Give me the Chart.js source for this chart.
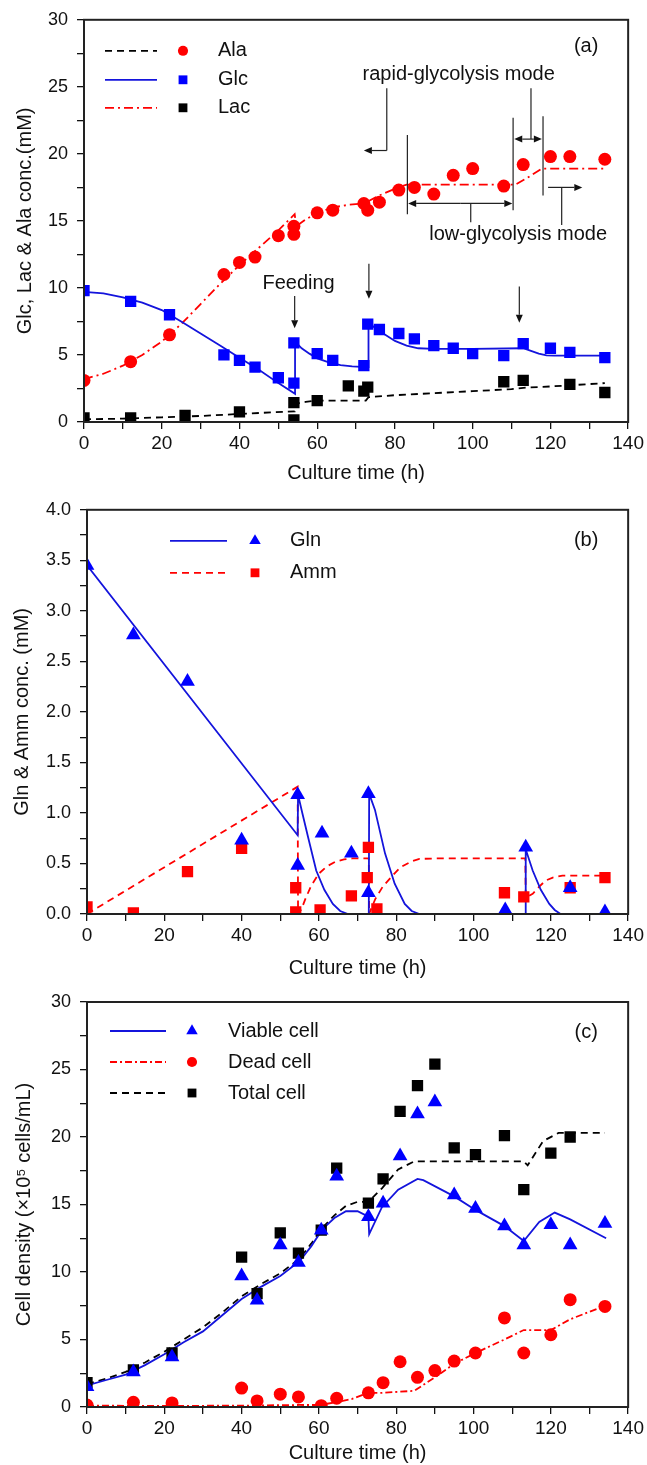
<!DOCTYPE html>
<html>
<head>
<meta charset="utf-8">
<title>Culture time courses</title>
<script src="https://cdn.jsdelivr.net/npm/chart.js@4.4.1/dist/chart.umd.min.js"></script>
<style>
  html, body { margin: 0; padding: 0; background: #fff; }
  body { width: 647px; height: 1465px; position: relative; overflow: hidden; }
  canvas { position: absolute; left: 0; }
</style>
</head>
<body>
<canvas id="chartA" width="647" height="490" style="top:0px"></canvas>
<canvas id="chartB" width="647" height="490" style="top:490px"></canvas>
<canvas id="chartC" width="647" height="485" style="top:980px"></canvas>
<script>
// ---- panel (a): Glc, Lac, Ala (mM) ----
const glcT = [0, 12, 22, 36, 40, 44, 50, 54, 54, 60, 64, 72, 73, 76, 81, 85, 90, 95, 100, 108, 113, 120, 125, 134];
const glcV = [9.8, 9.0, 8.0, 5.0, 4.6, 4.1, 3.3, 2.9, 5.9, 5.1, 4.6, 4.2, 7.3, 6.9, 6.6, 6.2, 5.7, 5.5, 5.1, 4.95, 5.85, 5.5, 5.2, 4.8];
const lacT = [0, 12, 26, 40, 54, 54, 60, 68, 72, 73, 108, 113, 125, 134];
const lacV = [0.3, 0.3, 0.5, 0.75, 0.15, 1.45, 1.6, 2.7, 2.3, 2.6, 3.0, 3.1, 2.8, 2.2];
const alaT = [0, 12, 22, 36, 40, 44, 50, 54, 54, 60, 64, 72, 73, 76, 81, 85, 90, 95, 100, 108, 113, 120, 125, 134];
const alaV = [3.1, 4.5, 6.5, 11.0, 11.9, 12.3, 13.9, 14.6, 14.0, 15.6, 15.8, 16.3, 15.8, 16.4, 17.3, 17.5, 17.0, 18.4, 18.9, 17.6, 19.2, 19.8, 19.8, 19.6];

// model curves (a)
const glcFitT = [0, 5, 10, 15, 20, 25, 30, 35, 40, 45, 50, 54.3, 54.3, 56, 58, 60, 63, 66, 69, 72.5, 73.2, 73.2, 75, 77, 80, 83, 86, 90, 100, 113, 115, 117, 119, 121, 134];
const glcFitV = [9.7, 9.6, 9.3, 8.9, 8.35, 7.5, 6.6, 5.7, 4.8, 3.9, 2.9, 2.1, 6.0, 5.5, 5.1, 4.75, 4.45, 4.25, 4.15, 4.1, 4.1, 7.4, 7.0, 6.6, 6.05, 5.7, 5.5, 5.45, 5.45, 5.5, 5.3, 5.1, 4.97, 4.95, 4.95];
const alaFitT = [0, 5, 10, 15, 20, 25, 30, 35, 40, 45, 50, 54.2, 54.6, 57, 60, 64, 68, 72, 76, 80, 83, 90, 100, 111, 114, 117.8, 125, 134];
const alaFitV = [3.2, 3.6, 4.2, 5.0, 6.0, 7.3, 8.8, 10.3, 11.7, 13.0, 14.3, 15.5, 14.6, 15.1, 15.6, 16.0, 16.2, 16.3, 16.9, 17.4, 17.7, 17.7, 17.7, 17.7, 18.2, 18.9, 18.9, 18.9];
const lacFitT = [0, 10, 20, 30, 40, 54.2, 54.3, 57, 60, 72.5, 73.2, 80, 90, 100, 110, 113, 120, 134];
const lacFitV = [0.2, 0.25, 0.35, 0.45, 0.6, 0.8, 1.35, 1.5, 1.6, 1.6, 1.85, 2.0, 2.15, 2.3, 2.45, 2.55, 2.65, 2.9];

// annotations (a), in data units
const feedT = [54.2, 73.3, 112];
const feedTop = [9.4, 11.8, 10.1];
const feedTip = [7.0, 9.2, 7.4];
const modeBars = [[83.2, 21.4, 15.5], [110.4, 22.7, 15.8], [118.1, 22.8, 16.9]];
const modeLeaders = [[77.9, 24.9, 20.25], [115, 24.9, 21.1], [99.5, 16.3, 14.9], [122.9, 17.5, 14.7]];
const modeArrows = [[77.9, 20.25, 72, 20.25], [96.8, 16.3, 83.4, 16.3], [96.8, 16.3, 110.2, 16.3],
  [115, 21.1, 110.7, 21.1], [115, 21.1, 117.8, 21.1], [119.4, 17.5, 128.2, 17.5]];
const modeTexts = [['rapid-glycolysis mode', 96.4, 25.9], ['low-glycolysis mode', 111.7, 14.0], ['Feeding', 55.2, 10.35]];

// ---- panel (b): Gln, Amm (mM) ----
const glnT = [0, 12, 26, 40, 54.5, 54.5, 60.8, 68.4, 72.8, 72.8, 108.2, 113.5, 125, 134];
const glnV = [3.45, 2.76, 2.3, 0.73, 1.18, 0.48, 0.80, 0.60, 0.21, 1.19, 0.04, 0.66, 0.26, 0.02];
const ammT = [0, 12, 26, 40, 54, 54, 60.3, 68.4, 72.5, 72.8, 75, 108, 113, 125, 134];
const ammV = [0.07, 0.01, 0.42, 0.65, 0.26, 0.02, 0.04, 0.18, 0.36, 0.66, 0.05, 0.21, 0.17, 0.26, 0.36];
const glnFitT = [0, 54.5, 54.6, 55.7, 57.2, 59.3, 61.4, 63.6, 65.5, 67.5, 72.9, 73, 74.5, 77.1, 79.6, 82.2, 84, 86, 113.4, 113.5, 115.3, 117.4, 119.6, 121, 122.5, 135];
const glnFitV = [3.45, 0.78, 1.18, 1.0, 0.76, 0.43, 0.24, 0.1, 0.03, 0, 0, 1.19, 1.03, 0.6, 0.3, 0.1, 0.03, 0, 0, 0.64, 0.43, 0.24, 0.1, 0.04, 0, 0];
const ammFitT = [0, 54.5, 54.6, 55.5, 56.5, 58, 60, 62, 64.4, 66.5, 68.6, 72.9, 73, 73.5, 74.6, 76.5, 78.8, 81, 83.9, 86, 90, 113.4, 113.5, 115.3, 117, 118.6, 120.5, 123, 135];
const ammFitV = [0, 1.26, 0, 0.05, 0.15, 0.28, 0.40, 0.47, 0.52, 0.54, 0.55, 0.55, 0, 0.05, 0.15, 0.27, 0.37, 0.46, 0.52, 0.545, 0.55, 0.55, 0.16, 0.2, 0.27, 0.33, 0.36, 0.38, 0.38];

// ---- panel (c): cell density (x10^5 cells/mL) ----
const viaT = [0, 12, 22, 40, 44, 50, 54.7, 60.6, 64.6, 72.8, 76.6, 81, 85.5, 90, 95, 100.5, 108, 113, 120, 125, 134];
const viaV = [1.5, 2.6, 3.7, 9.7, 7.9, 12.0, 10.7, 13.1, 17.1, 14.1, 15.1, 18.6, 21.7, 22.6, 15.7, 14.7, 13.4, 12.0, 13.5, 12.0, 13.6];
const deadT = [0, 12, 22, 40, 44, 50, 54.7, 60.6, 64.6, 72.8, 76.6, 81, 85.5, 90, 95, 100.5, 108, 113, 120, 125, 134];
const deadV = [0.15, 0.35, 0.3, 1.4, 0.45, 0.95, 0.75, 0.1, 0.65, 1.05, 1.8, 3.35, 2.2, 2.7, 3.4, 4.0, 6.6, 4.0, 5.35, 7.95, 7.45];
const totT = [0, 12, 22, 40, 44, 50, 54.7, 60.6, 64.6, 72.8, 76.6, 81, 85.5, 90, 95, 100.5, 108, 113, 120, 125];
const totV = [1.8, 2.75, 4.0, 11.1, 8.4, 12.9, 11.4, 13.1, 17.7, 15.1, 16.9, 21.9, 23.8, 25.4, 19.2, 18.7, 20.1, 16.1, 18.8, 20.0];
const viaFitT = [0, 5, 10, 15, 20, 25, 30, 35, 40, 45, 50, 55, 58, 61, 64, 67, 70, 72.8, 73, 76.3, 80.5, 85.5, 87, 95, 100.5, 108, 113, 117, 121, 125, 134.3];
const viaFitV = [1.6, 2.0, 2.4, 3.1, 3.9, 4.8, 5.6, 6.8, 8.0, 8.9, 9.7, 10.8, 11.9, 13.2, 14.0, 14.5, 14.5, 14.1, 12.8, 14.8, 16.1, 16.9, 16.8, 15.6, 14.6, 13.4, 12.3, 13.7, 14.4, 13.9, 12.5];
const totFitT = [0, 5, 10, 15, 20, 25, 30, 35, 40, 45, 50, 55, 58, 61, 64, 67, 70, 72.8, 76.3, 80.5, 84.7, 90, 100, 113, 114, 118, 122, 134];
const totFitV = [1.7, 2.1, 2.6, 3.3, 4.1, 5.0, 5.9, 7.0, 8.2, 9.1, 9.9, 11.0, 12.1, 13.3, 14.2, 14.9, 15.2, 15.2, 16.2, 17.6, 18.2, 18.2, 18.2, 18.2, 17.9, 19.7, 20.3, 20.3];
const deadFitT = [0, 20, 40, 55, 60, 64.5, 68.6, 72.8, 76.3, 84.7, 90, 95, 100.5, 108, 113, 120, 125, 134];
const deadFitV = [0.1, 0.08, 0.1, 0.15, 0.15, 0.35, 0.6, 1.05, 1.05, 1.2, 2.2, 3.2, 4.0, 5.0, 5.7, 5.7, 6.5, 7.5];

const FONT = '"Liberation Sans", Arial, Helvetica, sans-serif';
const RED = '#ff0000', BLUE = '#0000ff', BLUE_LINE = '#1414dc', BLACK = '#000000';
const DASH = [7, 5];
const DASH_DOT = [9, 4, 2, 4];

function pts(ts, vs) {
  return ts.map((t, i) => ({ x: t, y: vs[i] }));
}

function markers(label, ts, vs, style, color, r) {
  return {
    label, data: pts(ts, vs), showLine: false, pointStyle: style,
    pointRadius: r, pointHoverRadius: r, pointBorderWidth: 0,
    pointBackgroundColor: color, pointBorderColor: color,
    backgroundColor: color, borderColor: color, clip: 0
  };
}

function fitLine(label, ts, vs, color, dash) {
  return {
    label, data: pts(ts, vs), showLine: true, pointRadius: 0, pointHoverRadius: 0,
    borderColor: color, backgroundColor: color, borderWidth: 1.8, borderDash: dash,
    tension: 0, fill: false, clip: 0
  };
}

function drawMarker(ctx, style, x, y, r, color) {
  ctx.fillStyle = color;
  ctx.beginPath();
  if (style === 'circle') {
    ctx.arc(x, y, r, 0, Math.PI * 2);
  } else if (style === 'rect') {
    const s = r * Math.SQRT1_2;
    ctx.rect(x - s, y - s, 2 * s, 2 * s);
  } else {
    ctx.moveTo(x, y - r);
    ctx.lineTo(x + r * Math.sin(2 * Math.PI / 3), y - r * Math.cos(2 * Math.PI / 3));
    ctx.lineTo(x + r * Math.sin(4 * Math.PI / 3), y - r * Math.cos(4 * Math.PI / 3));
    ctx.closePath();
  }
  ctx.fill();
}

function arrow(ctx, x1, y1, x2, y2) {
  const head = 8, half = 3.5;
  const ang = Math.atan2(y2 - y1, x2 - x1);
  const bx = x2 - head * Math.cos(ang), by = y2 - head * Math.sin(ang);
  ctx.beginPath(); ctx.moveTo(x1, y1); ctx.lineTo(bx, by); ctx.stroke();
  ctx.beginPath();
  ctx.moveTo(x2, y2);
  ctx.lineTo(bx + half * Math.sin(ang), by - half * Math.cos(ang));
  ctx.lineTo(bx - half * Math.sin(ang), by + half * Math.cos(ang));
  ctx.closePath(); ctx.fill();
}

// frame, legend, panel tag and notes
function decor(p) {
  return {
    id: 'decor' + p.key,
    afterDraw(chart) {
      const ctx = chart.ctx, a = chart.chartArea;
      const X = chart.scales.x, Y = chart.scales.y;
      const px = t => X.getPixelForValue(t), py = v => Y.getPixelForValue(v);
      ctx.save();
      ctx.strokeStyle = '#222'; ctx.lineWidth = 2;
      ctx.strokeRect(a.left, a.top, a.right - a.left, a.bottom - a.top);

      const lg = p.legend;
      ctx.font = '20px ' + FONT; ctx.textBaseline = 'middle'; ctx.textAlign = 'left';
      lg.rows.forEach((row, i) => {
        const y = a.top + lg.rowY[i];
        const ld = chart.data.datasets[row.line], md = chart.data.datasets[row.marker];
        ctx.save();
        ctx.strokeStyle = ld.borderColor; ctx.lineWidth = ld.borderWidth;
        ctx.setLineDash(ld.borderDash || []);
        ctx.beginPath(); ctx.moveTo(a.left + lg.x1, y); ctx.lineTo(a.left + lg.x2, y); ctx.stroke();
        ctx.restore();
        drawMarker(ctx, md.pointStyle, a.left + lg.xm, y, md.pointRadius * 0.78, md.backgroundColor);
        ctx.fillStyle = '#111';
        ctx.fillText(row.text, a.left + lg.xt, y);
      });

      ctx.fillStyle = '#111'; ctx.textAlign = 'center'; ctx.font = '20px ' + FONT;
      ctx.fillText(p.tag, a.right - 42, a.top + p.tagY);
      if (p.notes) p.notes(ctx, px, py);
      ctx.restore();
    }
  };
}

function notesA(ctx, px, py) {
  ctx.strokeStyle = '#222'; ctx.fillStyle = '#111'; ctx.lineWidth = 1.2;
  feedT.forEach((t, i) => arrow(ctx, px(t), py(feedTop[i]), px(t), py(feedTip[i])));
  modeBars.forEach(b => {
    ctx.beginPath(); ctx.moveTo(px(b[0]), py(b[1])); ctx.lineTo(px(b[0]), py(b[2])); ctx.stroke();
  });
  modeLeaders.forEach(b => {
    ctx.beginPath(); ctx.moveTo(px(b[0]), py(b[1])); ctx.lineTo(px(b[0]), py(b[2])); ctx.stroke();
  });
  modeArrows.forEach(s => arrow(ctx, px(s[0]), py(s[1]), px(s[2]), py(s[3])));
  ctx.font = '20px ' + FONT; ctx.textAlign = 'center'; ctx.textBaseline = 'middle';
  modeTexts.forEach(s => ctx.fillText(s[0], px(s[1]), py(s[2])));
}

function axes(p) {
  const yTickFont = { family: FONT, size: 18 };
  const xTickFont = { family: FONT, size: 19 };
  const titleFont = { family: FONT, size: 20 };
  const grid = { drawOnChartArea: false, drawTicks: true, tickLength: 7, color: '#111', lineWidth: 1.3 };
  const border = { display: true, color: '#222', width: 2 };
  return {
    x: {
      type: 'linear', min: 0, max: 140,
      afterFit: s => { s.height = p.xh; },
      ticks: { stepSize: 10, autoSkip: false, maxRotation: 0, color: '#111', padding: 3, font: xTickFont,
        callback: v => (v % 20 === 0 ? String(v) : '') },
      grid, border,
      title: { display: true, text: 'Culture time (h)', color: '#111', font: titleFont,
        padding: { top: 0, bottom: p.xTitlePad } }
    },
    y: {
      type: 'linear', min: p.yMin, max: p.yMax,
      afterFit: s => { s.width = p.leftW; },
      ticks: { stepSize: p.yStep, autoSkip: false, color: '#111', padding: 9, font: yTickFont,
        callback: p.yLabel },
      grid, border,
      title: { display: true, text: p.yTitle, color: '#111', font: titleFont,
        padding: { top: p.yTitlePad, bottom: 0 } }
    }
  };
}

function makePanel(id, p, datasets) {
  return new Chart(document.getElementById(id), {
    type: 'scatter',
    data: { datasets },
    options: {
      responsive: false, animation: false, devicePixelRatio: 1, events: [],
      layout: { padding: { top: p.padTop, right: p.padRight, left: 0, bottom: 0 } },
      scales: axes(p),
      plugins: { legend: { display: false }, tooltip: { enabled: false } }
    },
    plugins: [decor(p)]
  });
}

makePanel('chartA', {
  key: 'A', tag: '(a)', tagY: 27, padTop: 16, padRight: 14, leftW: 84, xh: 68,
  xTitlePad: 5, yTitlePad: 13, yMin: 0, yMax: 30, yStep: 2.5,
  yLabel: v => (v % 5 === 0 ? String(v) : ''),
  yTitle: 'Glc, Lac & Ala conc.(mM)',
  legend: { x1: 21, x2: 73, xm: 99, xt: 134, rowY: [31, 60, 88],
    rows: [{ text: 'Ala', line: 5, marker: 0 }, { text: 'Glc', line: 3, marker: 1 }, { text: 'Lac', line: 4, marker: 2 }] },
  notes: notesA
}, [
  markers('Ala', alaT, alaV, 'circle', RED, 6.5),
  markers('Glc', glcT, glcV, 'rect', BLUE, 8),
  markers('Lac', lacT, lacV, 'rect', BLACK, 8),
  fitLine('Glc model', glcFitT, glcFitV, BLUE_LINE, []),
  fitLine('Ala model', alaFitT, alaFitV, RED, DASH_DOT),
  fitLine('Lac model', lacFitT, lacFitV, BLACK, DASH)
]);

makePanel('chartB', {
  key: 'B', tag: '(b)', tagY: 31, padTop: 19, padRight: 10, leftW: 87, xh: 66,
  xTitlePad: 0, yTitlePad: 10, yMin: 0, yMax: 4, yStep: 0.25,
  yLabel: v => (Math.abs(v * 2 - Math.round(v * 2)) < 1e-6 ? v.toFixed(1) : ''),
  yTitle: 'Gln & Amm conc. (mM)',
  legend: { x1: 83, x2: 140, xm: 168, xt: 203, rowY: [31, 63],
    rows: [{ text: 'Gln', line: 2, marker: 0 }, { text: 'Amm', line: 3, marker: 1 }] }
}, [
  markers('Gln', glnT, glnV, 'triangle', BLUE, 8.5),
  markers('Amm', ammT, ammV, 'rect', RED, 8),
  fitLine('Gln model', glnFitT, glnFitV, BLUE_LINE, []),
  fitLine('Amm model', ammFitT, ammFitV, RED, DASH)
]);

makePanel('chartC', {
  key: 'C', tag: '(c)', tagY: 30, padTop: 22, padRight: 10, leftW: 87, xh: 58,
  xTitlePad: 0, yTitlePad: 12, yMin: 0, yMax: 30, yStep: 2.5,
  yLabel: v => (v % 5 === 0 ? String(v) : ''),
  yTitle: 'Cell density (\u00d710\u2075 cells/mL)',
  legend: { x1: 23, x2: 79, xm: 105, xt: 141, rowY: [29, 60, 91],
    rows: [{ text: 'Viable cell', line: 3, marker: 0 }, { text: 'Dead cell', line: 4, marker: 1 }, { text: 'Total cell', line: 5, marker: 2 }] }
}, [
  markers('Viable cell', viaT, viaV, 'triangle', BLUE, 8.5),
  markers('Dead cell', deadT, deadV, 'circle', RED, 6.5),
  markers('Total cell', totT, totV, 'rect', BLACK, 8),
  fitLine('Viable model', viaFitT, viaFitV, BLUE_LINE, []),
  fitLine('Dead model', deadFitT, deadFitV, RED, [7, 3, 2, 3]),
  fitLine('Total model', totFitT, totFitV, BLACK, DASH)
]);
</script>
</body>
</html>
